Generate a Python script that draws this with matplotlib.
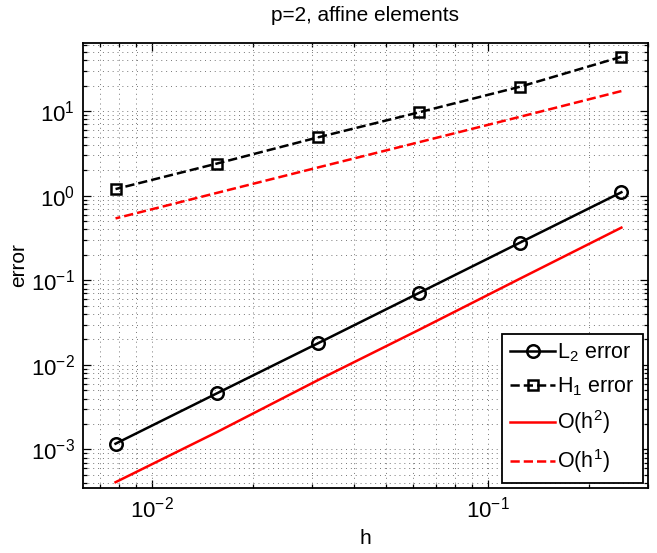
import matplotlib
matplotlib.use('Agg')
import matplotlib.pyplot as plt
from matplotlib.ticker import LogLocator, LogFormatterMathtext, NullFormatter

plt.rcParams['font.family'] = ['Liberation Sans', 'DejaVu Sans']
plt.rcParams['mathtext.fontset'] = 'custom'
plt.rcParams['mathtext.rm'] = 'Liberation Sans'
plt.rcParams['mathtext.it'] = 'Liberation Sans'

# mesh sizes and errors
h = [0.25, 0.125, 0.0625, 0.03125, 0.015625, 0.0078125]
l2_err = [1.1, 0.28, 0.071, 0.018, 0.0046, 0.00117]
h1_err = [44.0, 19.5, 9.7, 4.9, 2.4, 1.2]
ref_h2 = [0.42, 0.105, 0.026, 0.0066, 0.0016, 0.00041]
ref_h1 = [17.3, 8.6, 4.3, 2.16, 1.08, 0.54]

fig = plt.figure(figsize=(6.57, 5.53), dpi=100)
ax = fig.add_axes([0.1263, 0.1175, 0.86, 0.8047])

ax.loglog(h, l2_err, '-o', color='black', lw=1.8, ms=9,
          mfc='none', mew=1.8, label='L$_2$ error')
ax.loglog(h, h1_err, '--s', color='black', lw=1.8, ms=6.5,
          mfc='none', mew=1.8, label='H$_1$ error')
ax.loglog(h, ref_h2, '-', color='red', lw=1.8, label='O(h$^2$)')
ax.loglog(h, ref_h1, '--', color='red', lw=1.8, label='O(h$^1$)')

ax.set_xlim(0.00625, 0.3)
ax.set_ylim(3.5e-4, 64)

ax.xaxis.set_major_locator(LogLocator(base=10))
ax.yaxis.set_major_locator(LogLocator(base=10))
ax.xaxis.set_minor_locator(LogLocator(base=10, subs=range(2, 10)))
ax.yaxis.set_minor_locator(LogLocator(base=10, subs=range(2, 10)))
ax.xaxis.set_major_formatter(LogFormatterMathtext())
ax.yaxis.set_major_formatter(LogFormatterMathtext())
ax.xaxis.set_minor_formatter(NullFormatter())
ax.yaxis.set_minor_formatter(NullFormatter())

ax.grid(True, which='both', linestyle=(0, (1, 4)), color='#777777', lw=0.7)
ax.tick_params(which='both', direction='in', top=True, right=True,
               labelsize=16, width=0.9)
ax.tick_params(which='major', length=6, pad=6)
ax.tick_params(which='minor', length=3)
for s in ax.spines.values():
    s.set_linewidth(1.3)

ax.set_title('p=2, affine elements', fontsize=15, pad=16)
ax.set_xlabel('h', fontsize=15, labelpad=5)
ax.set_ylabel('error', fontsize=15, labelpad=2)

leg = ax.legend(loc='lower right', fontsize=15.5, fancybox=False,
                framealpha=1, edgecolor='black', handlelength=2.1,
                handletextpad=0.1, borderaxespad=0.25, labelspacing=0.5,
                borderpad=0.35)
leg.get_frame().set_linewidth(1.3)

fig.savefig('out.png', dpi=100)
